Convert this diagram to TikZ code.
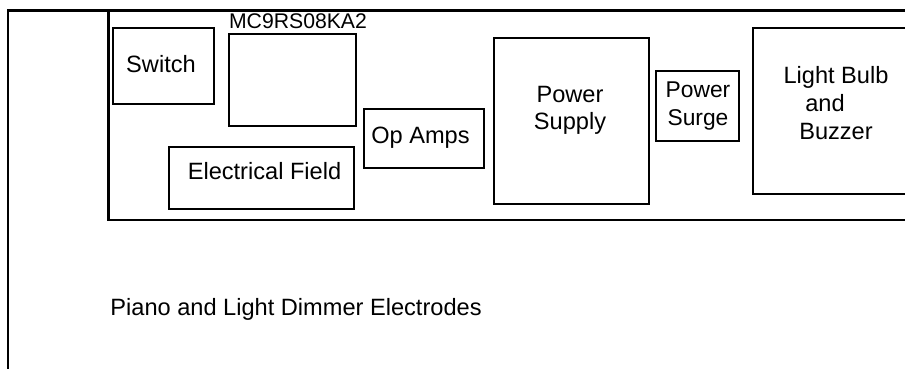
\documentclass[tikz,border=0pt]{standalone}
\usepackage{fontspec}
\setmainfont{Liberation Sans}
\usetikzlibrary{fit}
\begin{document}
\begin{tikzpicture}[x=0.5pt,y=-0.5pt,
  frame/.style={line width=1.15pt},
  box/.style={draw,line width=1.15pt,inner sep=0pt},
  txt/.style={inner sep=0pt,align=center,font=\fontsize{11.8}{13.5}\selectfont},
  txtwide/.style={txt,font=\fontsize{11.8}{14.2}\selectfont}]
\useasboundingbox (0,0) rectangle (905,369);
\clip (0,0) rectangle (905,369);
% frames
\coordinate (otl) at (8,10.5);
\coordinate (obl) at (8,375);
\coordinate (otr) at (915,10.5);
\coordinate (itl) at (108.5,10.5);
\coordinate (ibl) at (108.5,220);
\coordinate (ibr) at (915,220);
\draw[frame] (obl) -- (otl) -- (otr);
\draw[frame] (itl) -- (ibl) -- (ibr);
% boxes
\node[box,fit={(113,28) (214,104)}] (sw) {};
\node[box,fit={(229,34) (356,126)}] (mc) {};
\node[box,fit={(364,109) (484,168)}] (op) {};
\node[box,fit={(169,147) (354,209)}] (ef) {};
\node[box,fit={(494,38) (649,204)}] (ps) {};
\node[box,fit={(656,71) (739,141)}] (sg) {};
\node[box,fit={(753,28) (920,194)}] (lb) {};
% texts
\node[txt] (swt) at (161,64.5) {Switch};
\node[txt,font=\fontsize{10.6}{12}\selectfont] (mct) at (298,21.5) {MC9RS08KA2};
\node[txt] (opt) at (420.5,137.5) {Op Amps};
\node[txt] (eft) at (264.5,171.5) {Electrical Field};
\node[txt] (pst) at (570,110) {Power\\Supply};
\node[txt,font=\fontsize{11.4}{14}\selectfont] (sgt) at (698,106) {Power\\Surge};
\node[txtwide] (lbt) at (836,103) {Light Bulb\\\hspace*{-11pt}and\\Buzzer};
\node[txt,anchor=west] (pde) at (110,309) {Piano and Light Dimmer Electrodes};
\end{tikzpicture}
\end{document}
